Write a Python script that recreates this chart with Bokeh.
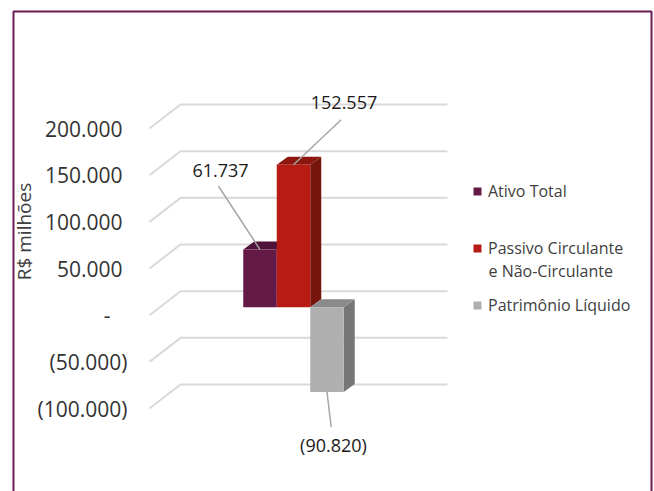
import math
from bokeh.plotting import figure
from bokeh.models import Range1d, Legend, LegendItem, Label, BoxAnnotation, ColumnDataSource
from bokeh.core.properties import value
from bokeh.embed import file_html
from bokeh.resources import INLINE

# ---------------- data ----------------
categories = ["Ativo Total", "Passivo Circulante", "Patrimônio Líquido"]
legend_continuation = "e Não-Circulante"
values = [61737, 152557, -90820]
tick_values = [-100000, -50000, 0, 50000, 100000, 150000, 200000]
tick_labels = ["(100.000)", "(50.000)", "-", "50.000", "100.000", "150.000", "200.000"]
y_title = "R$ milhões"

front_colors = ["#641a47", "#b71c14", "#afafaf"]
top_colors = ["#4f1238", "#8c1710", "#8a8a8a"]
side_colors = ["#4a1034", "#76140e", "#767676"]

# label placement (pixels: right, up) relative to each bar's anchor
leader_px = [(-41.5, 63.3), (47.7, 45.0), (4.2, -35.2)]
label_px = [(-39.5, 79.3), (50.5, 62.6), (6.5, -53.5)]

# ---------------- geometry ----------------
W, H = 654, 491
BAR_PX = 33.5          # px per category unit (bar width)
X0_PX = 259.5          # px from left edge to centre of first bar
ZERO_PX = 290.7        # px from top to the zero line on the back wall
PX_PER_UNIT = 46.67 / 50000.0

def dx(px):
    return px / BAR_PX

def dy(px):
    return px / PX_PER_UNIT

GRID_FRONT = dx(-110.5)
GRID_BACK = dx(-79.5)
GRID_RIGHT = dx(187.5)
GRID_DEPTH = dy(24)
BAR_FRONT = dy(16)
BAR_BACK = dy(8)
BAR_SIDE = dx(11)

FONT = "Open Sans"


def fmt(v):
    s = f"{abs(v):,}".replace(",", ".")
    return f"({s})" if v < 0 else s


p = figure(width=W, height=H, output_backend="svg", toolbar_location=None,
           x_range=Range1d(-X0_PX / BAR_PX, (W - X0_PX) / BAR_PX),
           y_range=Range1d(-(H - ZERO_PX) / PX_PER_UNIT, ZERO_PX / PX_PER_UNIT),
           x_axis_type=None, y_axis_type=None, min_border=0)
p.grid.visible = False
p.outline_line_color = None
p.background_fill_color = "white"
p.border_fill_color = "white"

# chart border
p.add_layout(BoxAnnotation(left=13, right=651, top=H - 11, bottom=-60,
                           left_units="screen", right_units="screen",
                           top_units="screen", bottom_units="screen",
                           fill_alpha=0, line_color="#6a1d52", line_alpha=1.0,
                           line_width=2))

# gridlines (side + back wall)
gx = [[GRID_FRONT, GRID_BACK, GRID_RIGHT] for _ in tick_values]
gy = [[t - GRID_DEPTH, t, t] for t in tick_values]
p.multi_line(gx, gy, line_color="#d9d9d9", line_width=2)

# tick labels at front end of gridlines
tick_off = [22 if t < 0 else (39 if t == 0 else 27) for t in tick_values]
tick_src = ColumnDataSource(dict(
    x=[GRID_FRONT - dx(o) for o in tick_off],
    y=[t - GRID_DEPTH for t in tick_values],
    text=tick_labels))
p.text(x="x", y="y", text="text", source=tick_src, text_align="right",
       text_baseline="middle", text_font=value(FONT), text_font_size="21px",
       text_color="#333333")

# 3D bars
idx = list(range(len(values)))
tops = [max(v, 0) for v in values]
bots = [min(v, 0) for v in values]

side_xs = [[i + 0.5, i + 0.5 + BAR_SIDE, i + 0.5 + BAR_SIDE, i + 0.5] for i in idx]
side_ys = [[t - BAR_FRONT, t - BAR_BACK, b - BAR_BACK, b - BAR_FRONT] for t, b in zip(tops, bots)]
p.patches(side_xs, side_ys, fill_color=side_colors, line_color=None)

top_xs = [[i - 0.5, i + 0.5, i + 0.5 + BAR_SIDE, i - 0.5 + BAR_SIDE] for i in idx]
top_ys = [[t - BAR_FRONT, t - BAR_FRONT, t - BAR_BACK, t - BAR_BACK] for t in tops]
p.patches(top_xs, top_ys, fill_color=top_colors, line_color=None)

front_src = ColumnDataSource(dict(
    left=[i - 0.5 for i in idx], right=[i + 0.5 for i in idx],
    top=[t - BAR_FRONT for t in tops], bottom=[b - BAR_FRONT for b in bots],
    color=front_colors))
fronts = p.quad(left="left", right="right", top="top", bottom="bottom",
                source=front_src, fill_color="color", line_color=None)

# data labels with leader lines
ax = [float(i) for i in idx]
ay = [v - BAR_FRONT for v in values]
p.segment(x0=ax, y0=ay,
          x1=[x + dx(o[0]) for x, o in zip(ax, leader_px)],
          y1=[y + dy(o[1]) for y, o in zip(ay, leader_px)],
          line_color="#a6a6a6", line_width=1.5)
p.text(x=[x + dx(o[0]) for x, o in zip(ax, label_px)],
       y=[y + dy(o[1]) for y, o in zip(ay, label_px)],
       text=[fmt(v) for v in values], text_align="center", text_baseline="middle",
       text_font=value(FONT), text_font_size="18px", text_color="#1a1a1a")

# axis title
p.add_layout(Label(x=23, y=H - 231, x_units="screen", y_units="screen", text=y_title,
                   angle=math.pi / 2, text_align="center", text_baseline="middle",
                   text_font=FONT, text_font_size="19px", text_color="#404040"))

# legend
legend = Legend(items=[LegendItem(label=c, renderers=[fronts], index=i)
                       for i, c in enumerate(categories)],
                location=(472, 175), glyph_width=10, glyph_height=10,
                label_standoff=6, label_height=20, spacing=35, padding=0, margin=0,
                border_line_color=None, background_fill_alpha=0,
                label_text_font=FONT, label_text_font_size="16px",
                label_text_color="#404040")
p.add_layout(legend)
p.add_layout(Label(x=488, y=H - 270, x_units="screen", y_units="screen",
                   text=legend_continuation, text_baseline="middle",
                   text_font=FONT, text_font_size="16px", text_color="#404040"))

open("out.html", "w").write(file_html(p, INLINE))
